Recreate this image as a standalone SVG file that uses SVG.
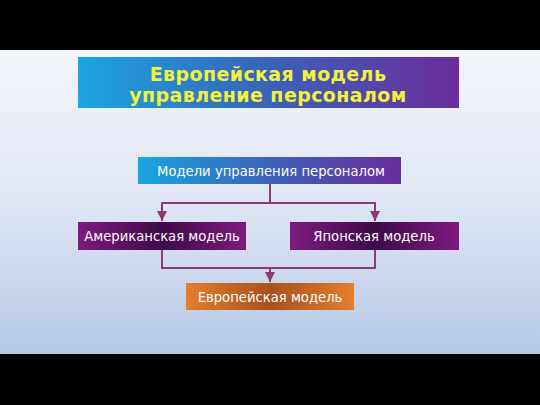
<svg xmlns="http://www.w3.org/2000/svg" width="540" height="405" viewBox="0 0 540 405">
<defs>
<linearGradient id="bg" x1="0" y1="0" x2="0" y2="1">
<stop offset="0" stop-color="#f3f5fb"/>
<stop offset="0.5" stop-color="#dfe6f3"/>
<stop offset="1" stop-color="#b6c9e9"/>
</linearGradient>
<linearGradient id="blue" x1="0" y1="0" x2="1" y2="0">
<stop offset="0" stop-color="#1aa6e2"/>
<stop offset="0.5" stop-color="#3a62b8"/>
<stop offset="1" stop-color="#6c2c9c"/>
</linearGradient>
<linearGradient id="purple" x1="0" y1="0" x2="1" y2="0">
<stop offset="0" stop-color="#7e1a80"/>
<stop offset="0.5" stop-color="#3e0a48"/>
<stop offset="1" stop-color="#7e1a80"/>
</linearGradient>
<linearGradient id="orange" x1="0" y1="0" x2="1" y2="0">
<stop offset="0" stop-color="#e57e2c"/>
<stop offset="0.5" stop-color="#a8501e"/>
<stop offset="1" stop-color="#e57e2c"/>
</linearGradient>
<marker id="arr" viewBox="0 0 10 10" refX="10" refY="5" markerWidth="10" markerHeight="10" markerUnits="userSpaceOnUse" orient="auto">
<path d="M0,0 L10,5 L0,10 z" fill="#8c3a70"/>
</marker>
<style>
.t{font-family:"DejaVu Sans","Open Sans",sans-serif;font-size:13.2px;fill:#ffffff;text-anchor:middle}
.h{font-family:"DejaVu Sans","Open Sans",sans-serif;font-size:19px;font-weight:bold;fill:#f2f23c;text-anchor:middle;letter-spacing:0.4px}
.c{fill:none;stroke:#8c3a70;stroke-width:2}
</style>
</defs>
<rect x="0" y="0" width="540" height="405" fill="#000"/>
<rect x="0" y="50" width="540" height="304" fill="url(#bg)"/>
<g id="title">
<rect x="78" y="57" width="381" height="51" fill="url(#blue)"/>
<text class="h" x="268" y="81">Европейская модель</text>
<text class="h" x="268" y="102">управление персоналом</text>
</g>
<g id="connectors">
<path class="c" d="M270,184 V203 H162 V221" marker-end="url(#arr)"/>
<path class="c" d="M270,203 H375 V221" marker-end="url(#arr)"/>
<path class="c" d="M162,250 V268 H375 V250"/>
<path class="c" d="M270,268 V282" marker-end="url(#arr)"/>
</g>
<g id="models">
<rect x="138" y="157" width="263" height="27" fill="url(#blue)"/>
<text class="t" x="271" y="175.5">Модели управления персоналом</text>
</g>
<g id="american">
<rect x="78" y="222" width="168" height="28" fill="url(#purple)"/>
<text class="t" x="162" y="241">Американская модель</text>
</g>
<g id="japanese">
<rect x="290" y="222" width="169" height="28" fill="url(#purple)"/>
<text class="t" x="374" y="241">Японская модель</text>
</g>
<g id="european">
<rect x="186" y="283" width="168" height="27" fill="url(#orange)"/>
<text class="t" x="270" y="301.5">Европейская модель</text>
</g>
</svg>
